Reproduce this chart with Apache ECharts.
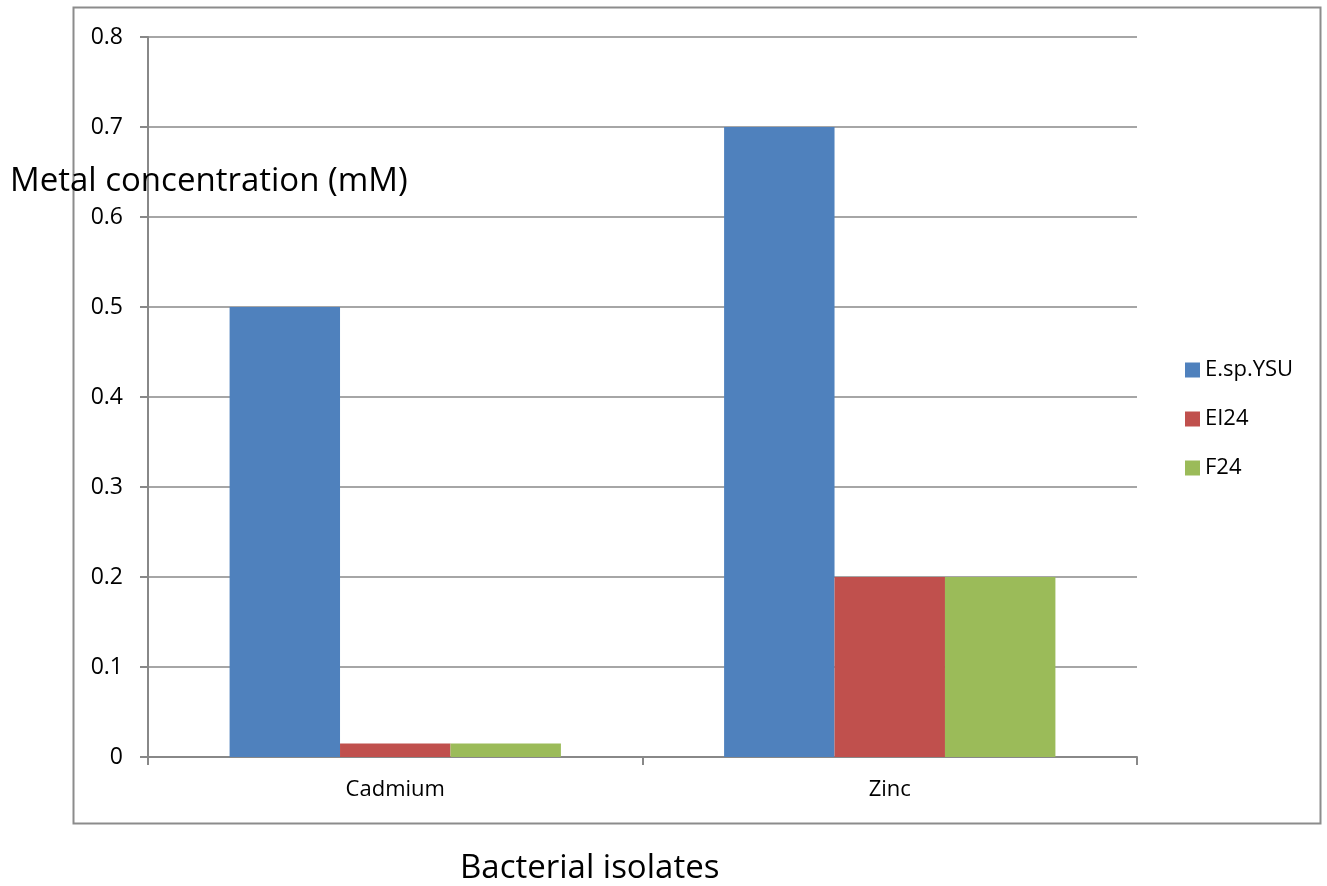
<!DOCTYPE html>
<html><head><meta charset="utf-8">
<script src="https://cdn.jsdelivr.net/npm/echarts@6/dist/echarts.min.js"></script>
<style>html,body{margin:0;padding:0;background:#fff}#c{width:1327px;height:886px}</style>
</head><body><div id="c"></div>
<script>
var categories = ['Cadmium', 'Zinc'];
var seriesNames = ['E.sp.YSU', 'EI24', 'F24'];
var espYSU = [0.5, 0.7];
var ei24 = [0.015, 0.2];
var f24 = [0.015, 0.2];
var colors = ['#4F81BD', '#C0504D', '#9BBB59'];
var FONT = 'Open Sans';
var chart = echarts.init(document.getElementById('c'));
chart.setOption({
  animation: false,
  textStyle: {fontFamily: FONT},
  graphic: [
    {type: 'rect', shape: {x: 73.5, y: 7.5, width: 1247, height: 816}, style: {fill: 'none', stroke: '#8c8c8c', lineWidth: 2}, z: 0},
    {type: 'text', left: 10, top: 165, style: {text: 'Metal concentration (mM)', font: '33px "Open Sans"', fill: '#000'}, z: 10},
    {type: 'text', left: 460, top: 852, style: {text: 'Bacterial isolates', font: '33px "Open Sans"', fill: '#000'}, z: 10}
  ],
  legend: {
    orient: 'vertical', left: 1180, top: 354, itemWidth: 15, itemHeight: 15, itemGap: 27,
    icon: 'rect', data: seriesNames,
    textStyle: {fontSize: 22, color: '#000', fontFamily: FONT}
  },
  grid: {left: 148, right: 190, top: 37, bottom: 129, containLabel: false},
  xAxis: {
    type: 'category', data: categories,
    axisLine: {lineStyle: {color: '#888', width: 2}},
    axisTick: {show: true, length: 8, lineStyle: {color: '#888', width: 2}},
    axisLabel: {fontSize: 22, color: '#000', margin: 22}
  },
  yAxis: {
    type: 'value', min: 0, max: 0.8, interval: 0.1,
    axisLine: {show: true, lineStyle: {color: '#888', width: 2}},
    axisTick: {show: true, length: 8, lineStyle: {color: '#888', width: 2}},
    splitLine: {lineStyle: {color: '#888', width: 1.5}},
    axisLabel: {fontSize: 23, color: '#000', margin: 25, formatter: function(v){return String(Math.round(v*10)/10);}}
  },
  series: [
    {name: seriesNames[0], type: 'bar', data: espYSU, itemStyle: {color: colors[0]}, barGap: '0%', barCategoryGap: '33%'},
    {name: seriesNames[1], type: 'bar', data: ei24, itemStyle: {color: colors[1]}},
    {name: seriesNames[2], type: 'bar', data: f24, itemStyle: {color: colors[2]}}
  ]
});
</script></body></html>
